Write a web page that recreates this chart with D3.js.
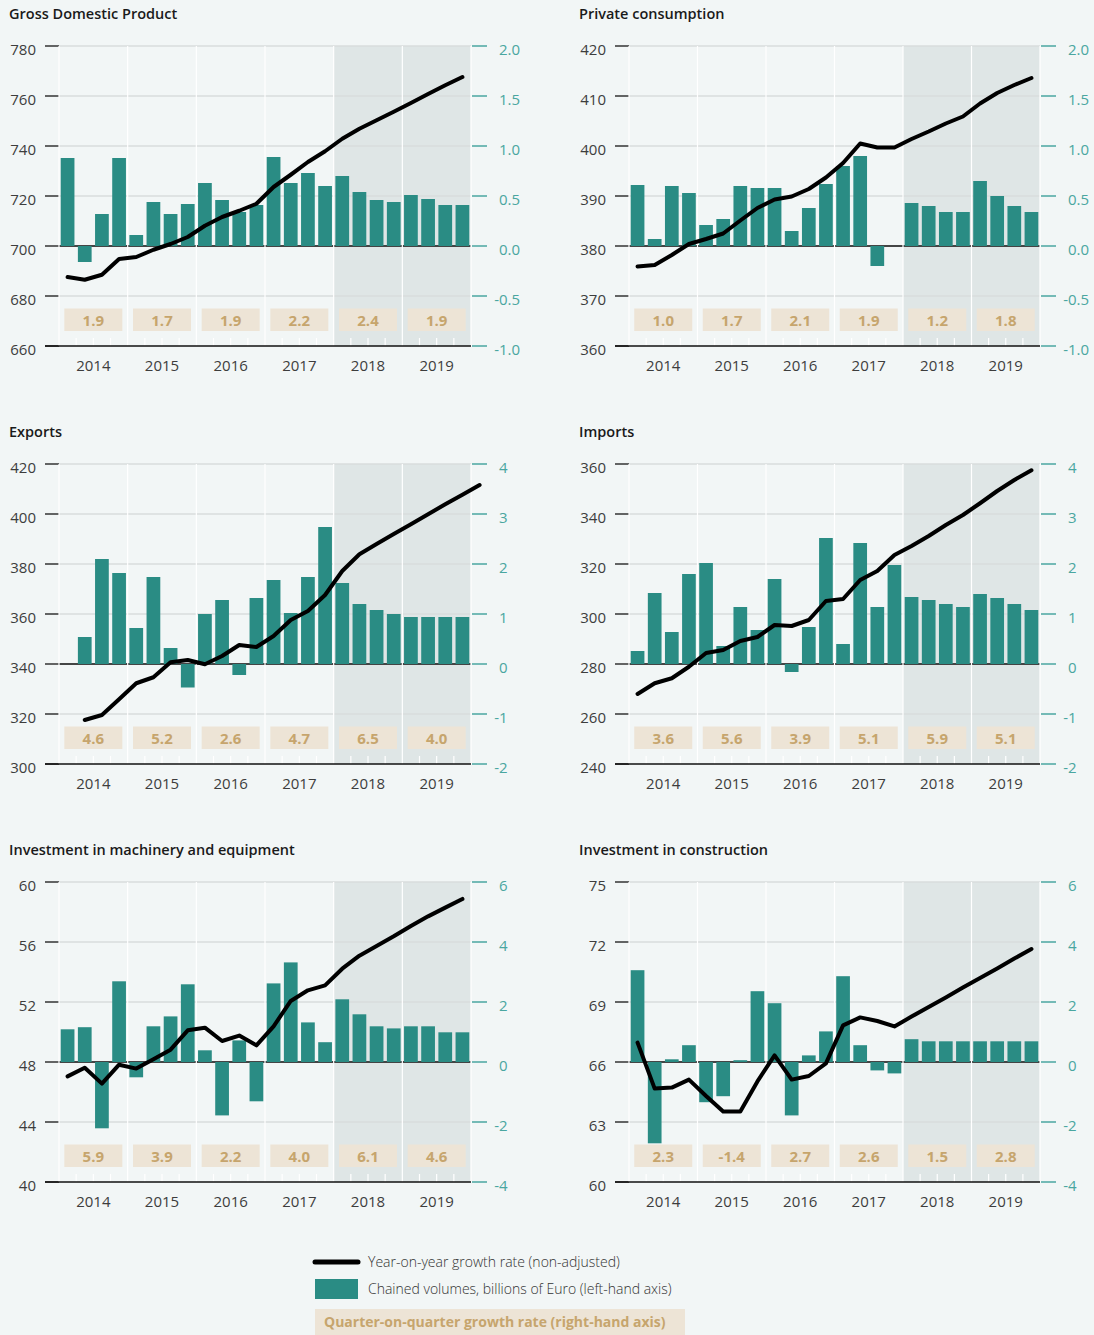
<!DOCTYPE html>
<html>
<head>
<meta charset="utf-8">
<script src="https://cdn.jsdelivr.net/npm/d3@7"></script>
<style>
body { margin: 0; background: #f2f6f6; }
svg { display: block; font-family: "Open Sans", sans-serif; }
</style>
</head>
<body>
<div id="container"></div>
<script>
d3.select().__proto__.attrs = function(obj) { Object.keys(obj).forEach(k => this.attr(k.split(/(?=[A-Z])/).join('-').toLowerCase(), obj[k])); return this; };

const years = ['2014', '2015', '2016', '2017', '2018', '2019'];
const forecastYear = '2018';

// levels (left axis) and quarter-on-quarter growth (right axis), 2014Q1..2019Q4
const gdpLevel = [687.6, 686.5, 688.5, 694.8, 695.6, 698.5, 700.8, 703.6, 708.1, 711.6, 714.1, 716.9,
    723.6, 728.5, 733.6, 737.9, 742.9, 746.9, 750.3, 753.7, 757.2, 760.8, 764.3, 767.6];
const gdpQoq = [0.88, -0.16, 0.32, 0.88, 0.11, 0.44, 0.32, 0.42, 0.63, 0.46, 0.34, 0.41,
    0.89, 0.63, 0.73, 0.60, 0.70, 0.54, 0.46, 0.44, 0.51, 0.47, 0.41, 0.41];
const gdpAnnual = ['1.9', '1.7', '1.9', '2.2', '2.4', '1.9'];

const consLevel = [375.9, 376.2, 378.2, 380.4, 381.4, 382.5, 385.1, 387.6, 389.3, 389.9, 391.4, 393.7,
    396.6, 400.5, 399.7, 399.7, 401.4, 402.9, 404.5, 405.9, 408.5, 410.6, 412.2, 413.6];
const consQoq = [0.61, 0.07, 0.60, 0.53, 0.21, 0.27, 0.60, 0.58, 0.58, 0.15, 0.38, 0.62,
    0.80, 0.90, -0.20, 0.0, 0.43, 0.40, 0.34, 0.34, 0.65, 0.50, 0.40, 0.34];
const consAnnual = ['1.0', '1.7', '2.1', '1.9', '1.2', '1.8'];

// exports: line is drawn one quarter later, first bar missing
const expLevel = [317.6, 319.6, 325.9, 332.3, 334.7, 340.7, 341.6, 339.9, 343.2, 347.6, 346.8, 351.2,
    357.6, 361.2, 367.6, 377.2, 383.9, 388.0, 392.0, 395.9, 399.9, 403.9, 407.7, 411.6];
const expQoq = [null, 0.54, 2.10, 1.82, 0.72, 1.74, 0.32, -0.47, 1.00, 1.28, -0.22, 1.32,
    1.68, 1.02, 1.74, 2.74, 1.62, 1.20, 1.08, 1.00, 0.94, 0.94, 0.94, 0.94];
const expAnnual = ['4.6', '5.2', '2.6', '4.7', '6.5', '4.0'];

const impLevel = [268.0, 272.3, 274.3, 278.9, 284.4, 285.6, 289.2, 290.8, 295.6, 295.2, 297.6, 305.2,
    306.0, 313.6, 317.2, 323.6, 327.2, 331.2, 335.6, 339.6, 344.3, 349.2, 353.6, 357.5];
const impQoq = [0.26, 1.42, 0.64, 1.80, 2.02, 0.36, 1.14, 0.68, 1.70, -0.16, 0.74, 2.52,
    0.40, 2.42, 1.14, 1.98, 1.34, 1.28, 1.20, 1.14, 1.40, 1.32, 1.20, 1.08];
const impAnnual = ['3.6', '5.6', '3.9', '5.1', '5.9', '5.1'];

const machLevel = [47.04, 47.62, 46.56, 47.82, 47.56, 48.18, 48.82, 50.11, 50.29, 49.40, 49.76, 49.11,
    50.38, 52.07, 52.78, 53.11, 54.22, 55.09, 55.73, 56.38, 57.07, 57.71, 58.29, 58.87];
const machQoq = [1.09, 1.16, -2.21, 2.69, -0.51, 1.19, 1.52, 2.59, 0.39, -1.78, 0.72, -1.31,
    2.62, 3.32, 1.32, 0.66, 2.09, 1.59, 1.19, 1.12, 1.19, 1.19, 0.99, 0.99];
const machAnnual = ['5.9', '3.9', '2.2', '4.0', '6.1', '4.6'];

const constLevel = [66.97, 64.67, 64.72, 65.12, 64.30, 63.52, 63.53, 65.03, 66.33, 65.12, 65.30, 65.93,
    67.83, 68.23, 68.05, 67.78, 68.27, 68.75, 69.23, 69.72, 70.20, 70.68, 71.17, 71.65];
const constQoq = [3.06, -2.71, 0.09, 0.56, -1.34, -1.14, 0.06, 2.36, 1.96, -1.78, 0.22, 1.02,
    2.86, 0.56, -0.28, -0.38, 0.76, 0.69, 0.69, 0.69, 0.69, 0.69, 0.69, 0.69];
const constAnnual = ['2.3', '-1.4', '2.7', '2.6', '1.5', '2.8'];

const ticksGdp = [660, 680, 700, 720, 740, 760, 780];
const ticksCons = [360, 370, 380, 390, 400, 410, 420];
const ticksExp = [300, 320, 340, 360, 380, 400, 420];
const ticksImp = [240, 260, 280, 300, 320, 340, 360];
const ticksMach = [40, 44, 48, 52, 56, 60];
const ticksConst = [60, 63, 66, 69, 72, 75];
const ticksRightSmall = [-1, -0.5, 0, 0.5, 1, 1.5, 2];
const ticksRightMid = [-2, -1, 0, 1, 2, 3, 4];
const ticksRightBig = [-4, -2, 0, 2, 4, 6];

const panels = [
    { title: 'Gross Domestic Product', level: gdpLevel, qoq: gdpQoq, annual: gdpAnnual, left: ticksGdp, right: ticksRightSmall, fmt: '.1f', shift: 0 },
    { title: 'Private consumption', level: consLevel, qoq: consQoq, annual: consAnnual, left: ticksCons, right: ticksRightSmall, fmt: '.1f', shift: 0 },
    { title: 'Exports', level: expLevel, qoq: expQoq, annual: expAnnual, left: ticksExp, right: ticksRightMid, fmt: 'd', shift: 1 },
    { title: 'Imports', level: impLevel, qoq: impQoq, annual: impAnnual, left: ticksImp, right: ticksRightMid, fmt: 'd', shift: 0 },
    { title: 'Investment in machinery and equipment', level: machLevel, qoq: machQoq, annual: machAnnual, left: ticksMach, right: ticksRightBig, fmt: 'd', shift: 0 },
    { title: 'Investment in construction', level: constLevel, qoq: constQoq, annual: constAnnual, left: ticksConst, right: ticksRightBig, fmt: 'd', shift: 0 },
];

const TEAL = '#2a8c84';
const TEAL_AXIS = '#4aa6a0';
const SHADE = '#dfe6e6';
const GRID = '#d9dddd';
const BEIGE = '#ede4d6';
const TAN = '#c6a56d';

const svg = d3.select('#container').append('svg').attrs({ width: 1094, height: 1335 });

const textWidth = (s, size) => {
    const t = svg.append('text').text(s).attrs({ fontSize: size });
    const w = t.node().getComputedTextLength();
    t.remove();
    return w;
};

const drawPanel = (p, i) => {
    const col = i % 2, row = Math.floor(i / 2);
    const x0 = col ? 629 : 59, x1 = col ? 1040 : 471;
    const y0 = 46 + row * 418, y1 = y0 + 300;
    const nq = years.length * 4;
    const xq = d3.scaleLinear().domain([0, nq]).range([x0, x1]);
    const yL = d3.scaleLinear().domain(d3.extent(p.left)).range([y1, y0]);
    const yR = d3.scaleLinear().domain(d3.extent(p.right)).range([y1, y0]);
    const slot = xq(1) - xq(0);
    const g = svg.append('g');

    g.append('text').text(p.title).attrs({ x: x0 - 50, y: y0 - 27, fontSize: 14.5, fontWeight: 600, fill: '#1a1a1a' });

    // forecast shading
    const fx = xq(years.indexOf(forecastYear) * 4);
    g.append('rect').attrs({ x: fx, y: y0, width: x1 - fx, height: y1 - y0, fill: SHADE });

    // grid + left ticks
    p.left.forEach(t => {
        if (t !== p.left[0]) g.append('line').attrs({ x1: x0, x2: x1, y1: yL(t), y2: yL(t), stroke: GRID, strokeWidth: 1.5 });
        g.append('line').attrs({ x1: x0 - 14, x2: x0, y1: yL(t), y2: yL(t), stroke: '#333', strokeWidth: 1.5 });
        g.append('text').text(t).attrs({ x: x0 - 23, y: yL(t) + 8.5, textAnchor: 'end', fontSize: 15, fill: '#3d3d3d' });
    });

    // right ticks, right-aligned so the widest positive label starts 28px from the plot
    const fmt = d3.format(p.fmt);
    const rx = x1 + 28 + textWidth(fmt(d3.max(p.right)), 15);
    p.right.forEach(t => {
        g.append('line').attrs({ x1: x1 + 1, x2: x1 + 16, y1: yR(t), y2: yR(t), stroke: TEAL_AXIS, strokeWidth: 1.5 });
        g.append('text').text(fmt(t).replace('−', '-')).attrs({ x: rx, y: yR(t) + 8.5, textAnchor: 'end', fontSize: 15, fill: TEAL_AXIS });
    });

    // zero line of right axis
    g.append('line').attrs({ x1: x0, x2: x1, y1: yR(0), y2: yR(0), stroke: '#111', strokeWidth: 1.5 });

    // year separators and quarter ticks
    d3.range(nq + 1).forEach(q => {
        if (q % 4 === 0) g.append('line').attrs({ x1: xq(q), x2: xq(q), y1: y0, y2: y1, stroke: '#fff', strokeWidth: 1.2 });
        else g.append('line').attrs({ x1: xq(q), x2: xq(q), y1: y1 - 8, y2: y1, stroke: '#fff', strokeWidth: 1.2 });
    });

    // bars
    g.selectAll('rect.bar')
        .data(p.qoq.map((v, q) => ({ v, q })).filter(d => d.v !== null && d.v !== 0))
        .join('rect')
        .attrs({
            class: 'bar',
            x: d => xq(d.q) + slot * 0.1,
            width: slot * 0.8,
            y: d => Math.min(yR(d.v), yR(0)),
            height: d => Math.abs(yR(d.v) - yR(0)),
            fill: TEAL
        });

    // annual growth boxes
    years.forEach((yr, k) => {
        const cx = (xq(k * 4) + xq(k * 4 + 4)) / 2;
        g.append('rect').attrs({ x: cx - 29, y: y1 - 37.5, width: 58, height: 22.5, fill: BEIGE });
        g.append('text').text(p.annual[k]).attrs({ x: cx, y: y1 - 20.5, textAnchor: 'middle', fontSize: 15, fontWeight: 700, fill: TAN });
        g.append('text').text(yr).attrs({ x: cx, y: y1 + 25, textAnchor: 'middle', fontSize: 15, fill: '#3d3d3d' });
    });

    // level line
    const line = d3.line().x((d, q) => xq(q + p.shift + 0.5)).y(d => yL(d));
    g.append('path').datum(p.level).attrs({ d: line, fill: 'none', stroke: '#000', strokeWidth: 4, strokeLinejoin: 'round', strokeLinecap: 'round' });

    // bottom axis
    g.append('line').attrs({ x1: x0 - 14, x2: x1, y1: y1, y2: y1, stroke: '#111', strokeWidth: 1.5 });
};

panels.forEach(drawPanel);

// legend
const lg = svg.append('g');
lg.append('line').attrs({ x1: 315, x2: 358, y1: 1262, y2: 1262, stroke: '#000', strokeWidth: 5, strokeLinecap: 'round' });
lg.append('text').text('Year-on-year growth rate (non-adjusted)').attrs({ x: 368, y: 1267, fontSize: 14, fontWeight: 300, fill: '#333' });
lg.append('rect').attrs({ x: 315, y: 1279, width: 43, height: 20, fill: TEAL });
lg.append('text').text('Chained volumes, billions of Euro (left-hand axis)').attrs({ x: 368, y: 1294, fontSize: 14, fontWeight: 300, fill: '#333' });
lg.append('rect').attrs({ x: 315, y: 1309, width: 370, height: 26, fill: BEIGE });
lg.append('text').text('Quarter-on-quarter growth rate (right-hand axis)').attrs({ x: 324, y: 1327, fontSize: 14, fontWeight: 700, fill: TAN });
</script>
</body>
</html>
